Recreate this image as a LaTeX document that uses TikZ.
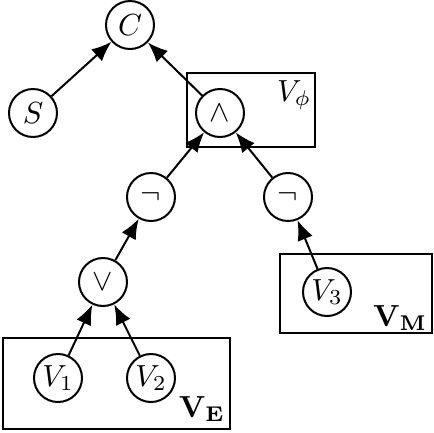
\documentclass[tikz,border=0pt]{standalone}
\usepackage{graphicx}
\usetikzlibrary{arrows.meta}
\newcommand{\nodemath}[1]{\scalebox{3.05}{$#1$}}
\begin{document}
\begin{tikzpicture}[x=1pt,y=-1pt,
  var/.style={draw,circle,line width=2pt,minimum size=48pt,inner sep=0pt},
  grp/.style={draw,line width=2pt},
  lbl/.style={inner sep=0pt},
  arr/.style={line width=2pt,-{Latex[length=20pt,width=16pt]}}]
\useasboundingbox (0,0) rectangle (434,432);
\draw[grp] (187,73) rectangle (315,147);
\draw[grp] (280,254) rectangle (432,333);
\draw[grp] (3,338) rectangle (230,429);
\node[var] (C) at (130,25) {\nodemath{C}};
\node[var] (S) at (33,113) {\nodemath{S}};
\node[var] (and) at (220,113) {\nodemath{\wedge}};
\node[var] (n1) at (151,197) {\nodemath{\neg}};
\node[var] (n2) at (288,197) {\nodemath{\neg}};
\node[var] (or) at (103,282) {\nodemath{\vee}};
\node[var] (v3) at (327,292) {\nodemath{V_3}};
\node[var] (v1) at (58,378) {\nodemath{V_1}};
\node[var] (v2) at (151,378) {\nodemath{V_2}};
\node[lbl] (lphi) at (294,95) {\nodemath{V_\phi}};
\node[lbl] (lM) at (400,318) {\nodemath{\mathbf{V_M}}};
\node[lbl] (lE) at (202,409) {\nodemath{\mathbf{V_E}}};
\draw[arr] (S) -- (C);
\draw[arr] (and) -- (C);
\draw[arr] (n1) -- (and);
\draw[arr] (n2) -- (and);
\draw[arr] (or) -- (n1);
\draw[arr] (v3) -- (n2);
\draw[arr] (v1) -- (or);
\draw[arr] (v2) -- (or);
\end{tikzpicture}
\end{document}
